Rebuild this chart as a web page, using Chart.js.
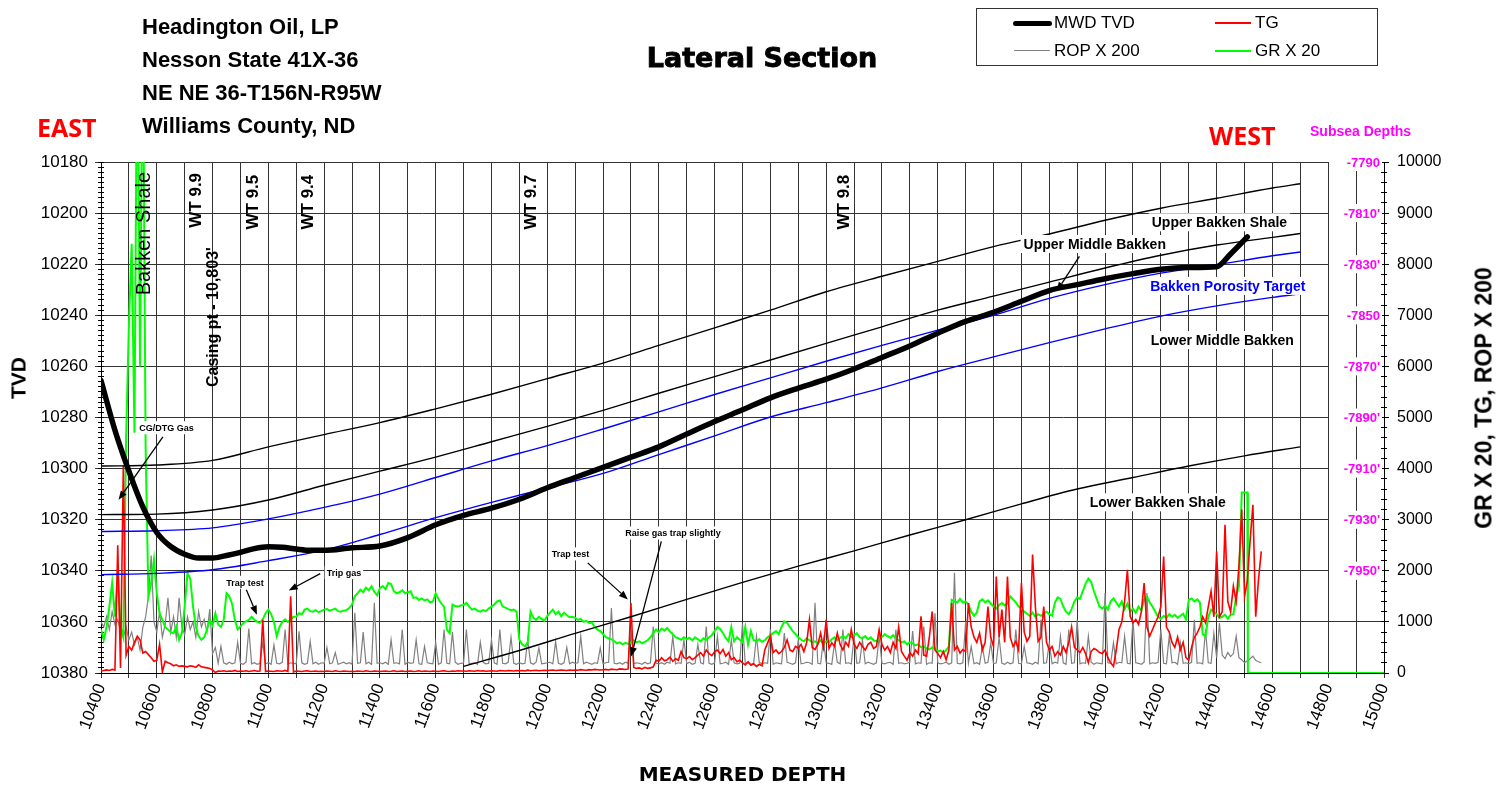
<!DOCTYPE html>
<html lang="en">
<head>
<meta charset="utf-8">
<title>Lateral Section</title>
<script src="https://cdn.jsdelivr.net/npm/chart.js@4.4.1/dist/chart.umd.min.js"></script>
<style>
  html, body { margin: 0; padding: 0; background: #fff; }
  #page { position: relative; width: 1511px; height: 790px; overflow: hidden; font-family: "Liberation Sans", Arial, sans-serif; color: #000; }
  #lateral-canvas { position: absolute; left: 0; top: 0; }
  .abs { position: absolute; white-space: nowrap; }
  .well-info { left: 142px; font-size: 22px; font-weight: bold; line-height: 26px; }
  .compass { font-family: "Open Sans", sans-serif; font-weight: bold; font-size: 25px; line-height: 30px; color: #ff0000; }
  .legend-text { font-size: 17px; line-height: 20px; }
  .axis-title { font-weight: bold; line-height: 1; transform: translate(-50%, -50%) rotate(-90deg); }
</style>
</head>
<body>
<div id="page">
  <canvas id="lateral-canvas" width="1511" height="790"></canvas>

  <div class="abs well-info" style="top:14px">Headington Oil, LP</div>
  <div class="abs well-info" style="top:47px">Nesson State 41X-36</div>
  <div class="abs well-info" style="top:80px">NE NE 36-T156N-R95W</div>
  <div class="abs well-info" style="top:113px">Williams County, ND</div>

  <div class="abs" style="left:562px;width:400px;top:42px;text-align:center;font-family:'DejaVu Sans',sans-serif;font-weight:bold;font-size:27px;line-height:32px;-webkit-text-stroke:0.9px #000">Lateral Section</div>

  <div class="abs compass" style="left:37px;top:112px">EAST</div>
  <div class="abs compass" style="left:1209px;top:120px">WEST</div>
  <div class="abs" style="left:1310px;top:123px;font-size:14px;line-height:16px;font-weight:bold;color:#ff00ff">Subsea Depths</div>

  <div class="abs" style="left:976px;top:8px;width:400px;height:56px;border:1px solid #333"></div>
  <div class="abs" style="left:1013px;top:21px;width:39px;height:5px;background:#000;border-radius:3px"></div>
  <div class="abs legend-text" style="left:1054px;top:13px">MWD TVD</div>
  <div class="abs" style="left:1215px;top:22px;width:36px;height:2px;background:#ff0000"></div>
  <div class="abs legend-text" style="left:1255px;top:13px">TG</div>
  <div class="abs" style="left:1014px;top:50px;width:36px;height:1px;background:#808080"></div>
  <div class="abs legend-text" style="left:1054px;top:41px">ROP X 200</div>
  <div class="abs" style="left:1215px;top:50px;width:36px;height:2px;background:#00ff00"></div>
  <div class="abs legend-text" style="left:1255px;top:41px">GR X 20</div>

  <div class="abs axis-title" style="left:18px;top:378px;font-size:21px">TVD</div>
  <div class="abs axis-title" style="left:1484px;top:398px;font-size:23px">GR X 20, TG, ROP X 200</div>
</div>

<script>
// Lateral section - MWD TVD against measured depth with gas / ROP / GR logs

const FONT = '"Liberation Sans", Arial, sans-serif';

// Axis ranges
const MD_MIN = 10400;
const MD_MAX = 15000;
const TVD_TOP = 10180;
const TVD_BOTTOM = 10380;
const LOG_MAX = 10000;

// Subsea depth labels on the right edge of the plot
const subseaTVD = [10180, 10200, 10220, 10240, 10260, 10280, 10300, 10320, 10340];
const subseaLabels = ['-7790', "-7810'", "-7830'", '-7850', "-7870'", "-7890'", "-7910'", "-7930'", "-7950'"];

// Well path (MWD TVD)
const mwdMD = [10400, 10450, 10500, 10550, 10600, 10650, 10700, 10750, 10800, 10850, 10900, 10950,
  11000, 11050, 11100, 11150, 11200, 11300, 11400, 11500, 11600, 11700, 11800, 11900, 12000,
  12100, 12200, 12300, 12400, 12500, 12600, 12700, 12800, 12900, 13000, 13100, 13200, 13300,
  13400, 13500, 13600, 13700, 13800, 13900, 14000, 14100, 14200, 14300, 14400, 14450, 14510];
const mwdTVD = [10265.5, 10285, 10301, 10315, 10325, 10330.5, 10333.5, 10335, 10335, 10334, 10332.8, 10331.3,
  10330.6, 10330.8, 10331.5, 10332, 10332, 10331, 10330.3, 10327, 10322, 10318.3, 10315.5, 10312, 10307.5,
  10303.5, 10299.5, 10295.5, 10291.5, 10286.5, 10281.6, 10277, 10272.3, 10268.5, 10265, 10261, 10256.5, 10252,
  10247, 10242.4, 10238.8, 10234.5, 10230.3, 10228, 10225.7, 10223.7, 10222, 10221.3, 10221, 10216, 10209.3];

// Formation tops
const formationMD = [10400, 10600, 10800, 11000, 11200, 11400, 11600, 11800, 12000, 12200, 12400, 12600,
  12800, 13000, 13200, 13400, 13600, 13800, 14000, 14200, 14400, 14600, 14700];
const upperShaleTop = [10299, 10298.6, 10296.8, 10291.5, 10286.7, 10282, 10276.6, 10270.9, 10264.8, 10258.7, 10251.8, 10244.9,
  10238, 10230.8, 10224.7, 10218.9, 10213.1, 10208.2, 10202.8, 10198.1, 10194.2, 10190.2, 10188.5];
const upperShaleBase = [10318, 10317.8, 10316.2, 10312.3, 10306.5, 10301, 10295.5, 10289.5, 10283.5, 10277.2, 10270.5, 10264,
  10257.5, 10251, 10244.5, 10238, 10232.5, 10227, 10221.5, 10216.5, 10212.5, 10209.5, 10208];
const porosityTop = [10324.6, 10324.3, 10323.2, 10319.7, 10315.2, 10310, 10303.5, 10297, 10291, 10284.5, 10277.8, 10271,
  10264.5, 10258, 10251.8, 10245.8, 10240, 10233.4, 10228, 10223.5, 10220.2, 10216.7, 10215.2];
const porosityBase = [10341.5, 10341, 10339.6, 10336, 10331.9, 10325.8, 10319.2, 10313.2, 10307.6, 10301.9, 10294.5, 10287.2,
  10279.8, 10274.2, 10268.4, 10262, 10256.3, 10250.7, 10245.3, 10240.3, 10236.3, 10233, 10231.6];
const lowerShaleMD = [11700, 11900, 12100, 12300, 12500, 12700, 12900, 13100, 13300, 13500, 13700, 13900, 14100, 14300, 14500, 14700];
const lowerShaleTop = [10377.4, 10371.2, 10364.5, 10358, 10351.2, 10344.5, 10338.2, 10332.2, 10326, 10320, 10313.8, 10308,
  10303.5, 10299, 10295, 10291.5];

// Logs sampled every 10 ft from 10400 MD
const LOG_START_MD = 10400;
const LOG_STEP_MD = 10;

const gammaRay = [
  850, 650, 900, 1300, 1760, 1100, 1950, 900, 700, 4600,
  6800, 8400, 4700, 13000, 6000, 13000, 4400, 1500, 1760, 2220,
  1560, 1170, 1040, 900, 850, 800, 780, 910, 650, 780,
  1300, 1950, 1850, 1300, 910, 720, 650, 700, 850, 1040,
  930, 1170, 950, 900, 1040, 1560, 1500, 1350, 1040, 850,
  910, 980, 1010, 1040, 1100, 1040, 1000, 980, 1050, 1170,
  1240, 1150, 1000, 720, 900, 1000, 1050, 1000, 1040, 1100,
  1100, 1170, 1150, 1240, 1260, 1210, 1200, 1230, 1190, 1210,
  1240, 1250, 1220, 1240, 1260, 1210, 1200, 1220, 1230, 1270,
  1340, 1500, 1560, 1630, 1580, 1670, 1620, 1700, 1590, 1520,
  1660, 1700, 1640, 1760, 1740, 1600, 1560, 1580, 1620, 1560,
  1580, 1600, 1470, 1480, 1430, 1460, 1420, 1440, 1380, 1400,
  1560, 1450, 1360, 1300, 850, 780, 1340, 1310, 1300, 1320,
  1330, 1370, 1300, 1240, 1260, 1220, 1200, 1230, 1210, 1260,
  1300, 1340, 1400, 1420, 1300, 1280, 1250, 1230, 1240, 1200,
  650, 560, 520, 600, 1200, 1080, 1040, 1100, 1060, 1020,
  1120, 1180, 1240, 1150, 1200, 1110, 1180, 1130, 1090, 1100,
  1080, 1040, 1060, 1000, 1020, 980, 990, 900, 850, 820,
  760, 700, 680, 660, 620, 580, 600, 560, 590, 570,
  600, 640, 600, 620, 580, 610, 640, 700, 780, 850,
  800, 870, 830, 880, 810, 760, 700, 680, 650, 700,
  660, 690, 640, 700, 660, 620, 680, 650, 700, 740,
  820, 900, 860, 780, 680, 620, 900, 620, 700, 650,
  600, 900, 560, 820, 640, 620, 660, 610, 640, 700,
  740, 780, 820, 760, 900, 1010, 980, 900, 820, 760,
  700, 650, 620, 680, 640, 600, 620, 580, 640, 560,
  620, 600, 660, 700, 640, 690, 720, 680, 760, 700,
  740, 780, 700, 680, 720, 660, 700, 640, 620, 680,
  700, 760, 720, 690, 740, 680, 640, 600, 620, 560,
  600, 580, 540, 560, 500, 520, 480, 460, 500, 480,
  420, 440, 400, 440, 520, 1430, 1400, 1380, 1450, 1380,
  1400, 1340, 1200, 1120, 1180, 1400, 1440, 1380, 1420, 1360,
  1300, 1260, 1330, 1370, 1320, 1360, 1500, 1440, 1380, 1300,
  1260, 1200, 1160, 1120, 1180, 1100, 1150, 1120, 1160, 1200,
  1150, 1120, 1380, 1480, 1450, 1300, 1200, 1150, 1250, 1400,
  1480, 1450, 1600, 1750, 1850, 1780, 1600, 1450, 1300, 1260,
  1320, 1240, 1400, 1460, 1380, 1300, 1400, 1250, 1360, 1200,
  1260, 1180, 1300, 1220, 1440, 1500, 1380, 1300, 1200, 1100,
  1060, 1120, 1080, 1150, 1100, 1140, 1080, 1120, 1160, 1050,
  1430, 1460, 1400, 1440, 1380, 760, 720, 1100, 1240, 1200,
  1150, 1080, 1100, 1140, 1060, 1140, 1150, 1500, 1700, 3530,
  3530, 3530
];
// GR after the tool stops reading
const grTailMD = [14512, 15000];
const grTailValue = [0, 0];

const totalGas = [
  40, 50, 60, 50, 70, 60, 2500, 100, 4050, 350,
  520, 450, 600, 720, 650, 390, 420, 360, 300, 230,
  250, 560, 20, 230, 200, 180, 140, 160, 130, 140,
  130, 120, 140, 130, 110, 160, 120, 110, 100, 90,
  60, 10, 40, 35, 45, 30, 40, 35, 50, 30,
  40, 35, 45, 30, 40, 50, 35, 40, 1040, 30,
  40, 35, 30, 45, 40, 35, 50, 30, 1500, 20,
  40, 35, 30, 40, 45, 30, 35, 40, 30, 35,
  30, 40, 35, 30, 45, 35, 30, 40, 35, 30,
  35, 30, 40, 35, 30, 45, 35, 30, 40, 35,
  30, 35, 40, 30, 35, 45, 30, 35, 40, 30,
  35, 40, 30, 35, 45, 30, 40, 35, 30, 40,
  35, 30, 40, 45, 35, 30, 40, 35, 45, 40,
  40, 35, 45, 40, 35, 50, 40, 45, 35, 40,
  45, 40, 35, 50, 45, 40, 50, 45, 40, 50,
  45, 50, 40, 55, 45, 50, 55, 45, 50, 55,
  50, 55, 60, 50, 55, 60, 55, 50, 60, 55,
  60, 55, 65, 60, 55, 65, 60, 70, 65, 60,
  65, 70, 60, 75, 70, 65, 80, 75, 70, 80,
  1370, 110, 90, 100, 80, 110, 90, 100, 120, 250,
  230, 300, 240, 260, 310, 230, 280, 250, 420, 300,
  280, 320, 260, 300, 350, 400, 330, 450, 380, 340,
  420, 450, 380, 460, 330, 400, 260, 300, 220, 250,
  200, 160, 220, 150, 180, 130, 170, 140, 450, 590,
  720, 400, 450, 380, 420, 500, 650, 450, 420, 520,
  480, 560, 420, 590, 1040, 500, 460, 560, 780, 500,
  1040, 480, 590, 520, 780, 560, 450, 600, 520, 850,
  560, 480, 600, 520, 450, 560, 600, 480, 520, 850,
  560, 450, 520, 400, 600, 480, 900, 420, 330, 250,
  400, 330, 450, 380, 1110, 350, 330, 700, 1200, 450,
  380, 300, 420, 260, 450, 1370, 450, 520, 390, 460,
  420, 1370, 900, 700, 600, 780, 450, 600, 1300, 700,
  520, 1890, 700, 1240, 600, 1890, 700, 520, 620, 450,
  1760, 800, 620, 720, 2320, 1300, 620, 700, 1300, 600,
  450, 520, 330, 420, 350, 520, 400, 600, 900, 500,
  450, 400, 500, 380, 200, 420, 480, 450, 400, 380,
  450, 300, 200, 130, 450, 850, 1000, 1400, 2020, 1110,
  980, 1050, 950, 1200, 1760, 900, 720, 850, 980, 1100,
  1300, 2280, 900, 800, 600, 500, 700, 450, 600, 300,
  250, 500, 700, 780, 900, 1100, 980, 1300, 1600, 1100,
  2380, 1100, 1200, 2900, 1400, 1200, 1700, 1400, 2100, 3200,
  1500, 1800, 2600, 3290, 1100, 1826, 2380
];

const ropValues = [
  1000, 900, 1100, 850, 1200, 950, 1050, 800, 700, 900,
  650, 800, 550, 700, 450, 900, 1100, 1500, 2300, 1000,
  800, 1200, 700, 950, 1470, 800, 1100, 700, 1470, 900,
  750, 1100, 850, 1000, 700, 1200, 900, 1050, 800, 1250,
  380, 500, 190, 520, 200, 170, 210, 180, 200, 600,
  190, 170, 210, 870, 180, 200, 170, 190, 600, 180,
  200, 170, 550, 190, 180, 210, 850, 170, 200, 190,
  180, 815, 200, 170, 190, 620, 180, 210, 170, 200,
  190, 500, 180, 200, 400, 170, 190, 210, 180, 200,
  170, 1180, 190, 200, 800, 180, 210, 170, 1375, 190,
  200, 180, 210, 170, 650, 190, 200, 180, 850, 170,
  210, 190, 200, 650, 180, 170, 520, 200, 190, 180,
  600, 170, 200, 850, 190, 180, 800, 210, 170, 190,
  200, 850, 180, 190, 200, 170, 600, 210, 180, 190,
  650, 200, 170, 850, 190, 180, 210, 700, 190, 170,
  200, 180, 190, 650, 200, 170, 210, 490, 180, 190,
  200, 210, 180, 620, 190, 170, 200, 500, 180, 210,
  190, 200, 720, 180, 210, 190, 170, 200, 190, 490,
  180, 200, 210, 1270, 190, 180, 200, 170, 210, 190,
  850, 180, 200, 190, 170, 210, 180, 200, 910, 190,
  180, 200, 170, 210, 190, 720, 180, 200, 190, 650,
  180, 210, 170, 190, 560, 200, 180, 910, 190, 170,
  200, 720, 180, 190, 210, 170, 650, 200, 180, 190,
  970, 180, 200, 170, 190, 720, 210, 180, 200, 190,
  850, 170, 200, 190, 180, 780, 210, 190, 170, 200,
  650, 180, 190, 210, 200, 170, 1375, 190, 180, 650,
  200, 190, 170, 590, 210, 180, 850, 190, 200, 180,
  720, 190, 200, 650, 180, 210, 190, 170, 200, 720,
  190, 180, 200, 210, 170, 850, 190, 200, 180, 190,
  210, 820, 180, 200, 190, 910, 170, 200, 190, 1170,
  200, 180, 190, 210, 170, 200, 1960, 190, 180, 200,
  1000, 190, 520, 180, 200, 170, 520, 190, 210, 590,
  180, 200, 700, 190, 170, 210, 180, 200, 850, 190,
  180, 520, 200, 190, 170, 210, 180, 1040, 190, 200,
  590, 180, 210, 190, 720, 200, 170, 850, 190, 200,
  1040, 180, 200, 190, 720, 210, 170, 200, 190, 180,
  1565, 200, 190, 590, 180, 210, 200, 720, 190, 180,
  1040, 200, 190, 170, 210, 1565, 180, 200, 190, 210,
  850, 190, 180, 720, 200, 210, 170, 590, 190, 200,
  180, 210, 1040, 190, 200, 180, 850, 200, 190, 780,
  300, 978, 350, 280, 400, 320, 380, 720, 300, 260,
  200, 240, 280, 330, 250, 220, 200
];

// Text notes placed at (MD, TVD)
const verticalNoteText = ['Bakken Shale', 'WT 9.9', "Casing pt - 10,803'", 'WT 9.5', 'WT 9.4', 'WT 9.7', 'WT 9.8'];
const verticalNoteMD = [10553, 10737, 10801, 10942, 11139, 11939, 13060];
const verticalNoteTVD = [10208, 10195, 10240.7, 10195.7, 10195.7, 10195.7, 10195.7];

const zoneLabelText = ['Upper Bakken Shale', 'Upper Middle Bakken', 'Bakken Porosity Target', 'Lower Middle Bakken', 'Lower Bakken Shale'];
const zoneLabelMD = [14410, 13963, 14440, 14420, 14189];
const zoneLabelTVD = [10203.6, 10212.1, 10228.5, 10249.7, 10313.2];

const calloutText = ['CG/DTG Gas', 'Trap test', 'Trip gas', 'Trap test', 'Raise gas trap slightly'];
const calloutMD = [10635, 10916, 11271, 12083, 12451];
const calloutTVD = [10284, 10344.5, 10340.7, 10333.4, 10325.2];

const arrowFromMD = [10622, 10921, 11186, 12145, 12409, 13908];
const arrowFromTVD = [10287.6, 10347.4, 10341.1, 10336.9, 10328.5, 10216.9];
const arrowToMD = [10463, 10959, 11073, 12289, 12301, 13827];
const arrowToTVD = [10312.2, 10357.2, 10347.7, 10351.2, 10373.5, 10230.6];

function pairSeries(mds, values) {
    return mds.map((md, i) => ({ x: md, y: values[i] }));
}

function logSeries(values) {
    return values.map((v, i) => ({ x: LOG_START_MD + i * LOG_STEP_MD, y: v }));
}

function formationLine(values, color, mds) {
    return {
        data: pairSeries(mds || formationMD, values),
        borderColor: color,
        borderWidth: 1.4,
        pointRadius: 0,
        cubicInterpolationMode: 'monotone',
        yAxisID: 'y',
        order: 1
    };
}

function logLine(data, color, width, order) {
    return {
        data,
        borderColor: color,
        borderWidth: width,
        pointRadius: 0,
        tension: 0,
        yAxisID: 'y2',
        order
    };
}

// Minor tick axes (ticks only, no labels)
function minorAxis(position, min, max, step, reverse, tickLength) {
    return {
        type: 'linear',
        position,
        min, max, reverse,
        weight: 0,
        afterFit: (s) => { s.width = 0; },
        ticks: { display: false, stepSize: step },
        grid: { drawOnChartArea: false, tickLength, color: '#000', lineWidth: 1 },
        border: { display: false }
    };
}

const wellAnnotations = {
    id: 'wellAnnotations',
    afterDatasetsDraw(chart) {
        const { ctx, chartArea } = chart;
        const x = chart.scales.x;
        const y = chart.scales.y;
        ctx.save();

        // arrows
        ctx.strokeStyle = '#000';
        ctx.fillStyle = '#000';
        arrowFromMD.forEach((md, i) => {
            const x1 = x.getPixelForValue(md), y1 = y.getPixelForValue(arrowFromTVD[i]);
            const x2 = x.getPixelForValue(arrowToMD[i]), y2 = y.getPixelForValue(arrowToTVD[i]);
            const ang = Math.atan2(y2 - y1, x2 - x1);
            const head = 9, half = 3.5;
            const bx = x2 - head * Math.cos(ang), by = y2 - head * Math.sin(ang);
            ctx.lineWidth = 1.3;
            ctx.beginPath();
            ctx.moveTo(x1, y1);
            ctx.lineTo(bx, by);
            ctx.stroke();
            ctx.beginPath();
            ctx.moveTo(x2, y2);
            ctx.lineTo(bx + half * Math.sin(ang), by - half * Math.cos(ang));
            ctx.lineTo(bx - half * Math.sin(ang), by + half * Math.cos(ang));
            ctx.closePath();
            ctx.fill();
        });

        function boxedText(text, px, py, size, bold, color, padX, padY) {
            ctx.font = (bold ? 'bold ' : '') + size + 'px ' + FONT;
            const w = ctx.measureText(text).width;
            ctx.fillStyle = '#fff';
            ctx.fillRect(px - w / 2 - padX, py - size / 2 - padY, w + 2 * padX, size + 2 * padY);
            ctx.fillStyle = color;
            ctx.textAlign = 'center';
            ctx.textBaseline = 'middle';
            ctx.fillText(text, px, py + 1);
        }

        // small callouts
        calloutText.forEach((text, i) => {
            boxedText(text, x.getPixelForValue(calloutMD[i]), y.getPixelForValue(calloutTVD[i]), 9, true, '#000', 2, 2);
        });

        // zone names
        zoneLabelText.forEach((text, i) => {
            const color = text === 'Bakken Porosity Target' ? '#0000ff' : '#000';
            boxedText(text, x.getPixelForValue(zoneLabelMD[i]), y.getPixelForValue(zoneLabelTVD[i]), 14, true, color, 3, 2);
        });

        // rotated notes, read bottom to top
        verticalNoteText.forEach((text, i) => {
            ctx.save();
            ctx.translate(x.getPixelForValue(verticalNoteMD[i]), y.getPixelForValue(verticalNoteTVD[i]));
            ctx.rotate(-Math.PI / 2);
            if (text === 'Bakken Shale') ctx.font = '20px ' + FONT;
            else if (text.startsWith('Casing')) ctx.font = 'bold 16px ' + FONT;
            else ctx.font = 'bold 17px ' + FONT;
            ctx.fillStyle = '#000';
            ctx.textAlign = 'center';
            ctx.textBaseline = 'middle';
            ctx.fillText(text, 0, 1);
            ctx.restore();
        });

        // subsea depth boxes
        ctx.font = 'bold 13px ' + FONT;
        ctx.textAlign = 'right';
        ctx.textBaseline = 'middle';
        subseaTVD.forEach((tvd, i) => {
            const py = y.getPixelForValue(tvd);
            ctx.fillStyle = '#fff';
            ctx.fillRect(chartArea.right - 55, py - 9, 53, 18);
            ctx.fillStyle = '#ff00ff';
            ctx.fillText(subseaLabels[i], chartArea.right - 4, py + 1);
        });

        ctx.restore();
    }
};

Chart.defaults.font.family = FONT;
Chart.defaults.color = '#000';

const grData = logSeries(gammaRay).concat(pairSeries(grTailMD, grTailValue));

new Chart(document.getElementById('lateral-canvas'), {
    type: 'line',
    data: {
        datasets: [
            {
                label: 'MWD TVD',
                data: pairSeries(mwdMD, mwdTVD),
                borderColor: '#000',
                borderWidth: 5.5,
                borderCapStyle: 'round',
                borderJoinStyle: 'round',
                pointRadius: 0,
                cubicInterpolationMode: 'monotone',
                yAxisID: 'y',
                order: 0
            },
            formationLine(upperShaleTop, '#000'),
            formationLine(upperShaleBase, '#000'),
            formationLine(porosityTop, '#0000ff'),
            formationLine(porosityBase, '#0000ff'),
            formationLine(lowerShaleTop, '#000', lowerShaleMD),
            Object.assign(logLine(logSeries(totalGas), '#ff0000', 1.6, 2), { label: 'TG' }),
            Object.assign(logLine(grData, '#00ff00', 2, 3), { label: 'GR X 20' }),
            Object.assign(logLine(logSeries(ropValues), '#808080', 1.2, 4), { label: 'ROP X 200' })
        ]
    },
    options: {
        responsive: false,
        animation: false,
        events: [],
        layout: { padding: { top: 162, left: 0, right: 0, bottom: 0 } },
        plugins: {
            legend: { display: false },
            tooltip: { enabled: false }
        },
        scales: {
            x: {
                type: 'linear',
                position: 'bottom',
                min: MD_MIN,
                max: MD_MAX,
                afterFit: (s) => { s.height = 117; },
                ticks: {
                    stepSize: 100,
                    autoSkip: false,
                    minRotation: 70,
                    maxRotation: 70,
                    padding: 3,
                    font: { size: 17 },
                    callback: (v) => (v % 200 === 0 ? String(v) : '')
                },
                grid: { color: '#333', lineWidth: 1, tickLength: 5 },
                border: { color: '#000' },
                title: {
                    display: true,
                    text: 'MEASURED DEPTH',
                    font: { family: '"DejaVu Sans", sans-serif', weight: 'bold', size: 20 },
                    padding: { top: 0, bottom: 2 }
                }
            },
            y: {
                type: 'linear',
                position: 'left',
                reverse: true,
                min: TVD_TOP,
                max: TVD_BOTTOM,
                weight: 1,
                afterFit: (s) => { s.width = 101; },
                ticks: { stepSize: 20, padding: 7, font: { size: 17 }, callback: (v) => String(v) },
                grid: { color: '#333', lineWidth: 1, tickLength: 6 },
                border: { color: '#000' }
            },
            yMinorOut: minorAxis('left', TVD_TOP, TVD_BOTTOM, 2, true, 3),
            yMinorIn: minorAxis('left', TVD_TOP, TVD_BOTTOM, 2, true, -3),
            y2: {
                type: 'linear',
                position: 'right',
                min: 0,
                max: LOG_MAX,
                weight: 1,
                afterFit: (s) => { s.width = 127; },
                ticks: { stepSize: 1000, padding: 8, font: { size: 16 }, callback: (v) => String(v) },
                grid: { drawOnChartArea: false, color: '#000', tickLength: 5 },
                border: { color: '#000' }
            },
            y2MinorOut: minorAxis('right', 0, LOG_MAX, 200, false, 3),
            y2MinorIn: minorAxis('right', 0, LOG_MAX, 200, false, -3)
        }
    },
    plugins: [wellAnnotations]
});
</script>
</body>
</html>
